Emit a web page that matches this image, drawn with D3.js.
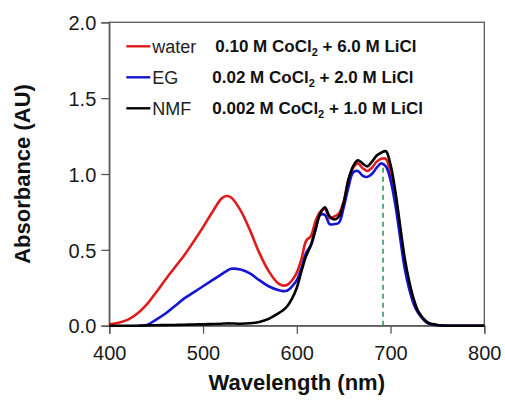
<!DOCTYPE html>
<html>
<head>
<meta charset="utf-8">
<script src="https://cdn.jsdelivr.net/npm/d3@7"></script>
<style>
  body { margin: 0; background: #fff; }
  svg { font-family: "Liberation Sans", Arial, sans-serif; }
</style>
</head>
<body>
<script>
// wavelength grid (nm) and absorbance
const wavelengths = [400, 410, 420, 430, 440, 450, 460, 470, 480, 490, 500, 510, 520, 525, 530, 540, 550, 560, 570, 580, 585, 590, 595, 600, 605, 610, 615, 620, 625, 630, 635, 640, 645, 650, 655, 660, 665, 670, 675, 680, 685, 690, 695, 700, 705, 710, 715, 720, 725, 730, 740, 750, 760, 780, 800];

const water = [0.01, 0.02, 0.04, 0.08, 0.14, 0.22, 0.305, 0.385, 0.465, 0.555, 0.65, 0.75, 0.84, 0.855, 0.845, 0.76, 0.63, 0.48, 0.36, 0.28, 0.265, 0.27, 0.30, 0.35, 0.44, 0.56, 0.59, 0.69, 0.75, 0.77, 0.71, 0.72, 0.74, 0.82, 0.96, 1.04, 1.07, 1.04, 1.02, 1.04, 1.08, 1.10, 1.10, 1.00, 0.85, 0.63, 0.41, 0.25, 0.14, 0.08, 0.015, 0.003, 0, 0, 0];

const eg = [null, null, null, 0, 0.005, 0.04, 0.08, 0.13, 0.18, 0.22, 0.26, 0.30, 0.34, 0.36, 0.375, 0.37, 0.345, 0.30, 0.26, 0.235, 0.228, 0.232, 0.26, 0.30, 0.38, 0.48, 0.53, 0.63, 0.73, 0.73, 0.67, 0.67, 0.68, 0.78, 0.91, 1.01, 1.02, 0.99, 0.98, 1.00, 1.04, 1.07, 1.05, 0.96, 0.80, 0.59, 0.38, 0.24, 0.14, 0.08, 0.015, 0.003, 0, 0, 0];

const nmf = [0, 0, 0, 0, 0.002, 0.003, 0.004, 0.005, 0.006, 0.008, 0.009, 0.011, 0.013, 0.015, 0.015, 0.013, 0.016, 0.025, 0.045, 0.08, 0.10, 0.13, 0.18, 0.25, 0.36, 0.46, 0.53, 0.64, 0.74, 0.78, 0.72, 0.70, 0.72, 0.81, 0.96, 1.05, 1.09, 1.07, 1.05, 1.08, 1.12, 1.14, 1.15, 1.06, 0.89, 0.67, 0.45, 0.29, 0.17, 0.09, 0.02, 0.005, 0, 0, 0];

const xTicks = [400, 500, 600, 700, 800];
const yTicks = [0.0, 0.5, 1.0, 1.5, 2.0];

const seriesNames = ["water", "EG", "NMF"];
const seriesColors = ["#e01b1b", "#1414d2", "#000000"];
const seriesConc = [
    ["0.10 M CoCl", " + 6.0 M LiCl"],
    ["0.02 M CoCl", " + 2.0 M LiCl"],
    ["0.002 M CoCl", " + 1.0 M LiCl"]
];
const peakNm = 692;
const peakAbs = 1.07;

let margin = { top: 22.3, right: 20.7, bottom: 74.3, left: 109.3 },
    width = 505 - margin.left - margin.right,
    height = 400 - margin.top - margin.bottom;

let x = d3.scaleLinear().domain([400, 800]).range([0, width]);
let y = d3.scaleLinear().domain([0, 2]).range([height, 0]);

let svg = d3.select("body").append("svg")
    .attr("width", 505)
    .attr("height", 400)
    .append("g")
    .attr("transform", "translate(" + margin.left + "," + margin.top + ")");

const axisColor = "#595959";

// frame
svg.append("rect")
    .attr("width", width)
    .attr("height", height)
    .attr("fill", "none")
    .attr("stroke", axisColor)
    .attr("stroke-width", 1.3);

let xAxis = d3.axisBottom(x).tickValues(xTicks).tickSize(8).tickFormat(d3.format("d"));
let yAxis = d3.axisLeft(y).tickValues(yTicks).tickSize(8).tickFormat(d3.format(".1f"));

let gx = svg.append("g")
    .attr("transform", "translate(0," + height + ")")
    .call(xAxis);
let gy = svg.append("g").call(yAxis);

[gx, gy].forEach(function (g) {
    g.select(".domain").attr("stroke", axisColor).attr("stroke-width", 1.3);
    g.selectAll(".tick line").attr("stroke", axisColor).attr("stroke-width", 1.3);
    g.selectAll(".tick text")
        .attr("fill", "#1a1a1a")
        .style("font-size", "20px")
        .style("font-family", "Liberation Sans, Arial, sans-serif");
});
gx.selectAll(".tick text").attr("dy", null).attr("y", 34);
gy.selectAll(".tick text").attr("x", -13).attr("dy", "0.36em");

// axis titles
svg.append("text")
    .attr("x", width / 2)
    .attr("y", 368)
    .attr("text-anchor", "middle")
    .style("font-size", "22px")
    .style("font-weight", "bold")
    .attr("fill", "#111")
    .text("Wavelength (nm)");

svg.append("text")
    .attr("transform", "translate(" + (-79) + "," + (height / 2) + ") rotate(-90)")
    .attr("text-anchor", "middle")
    .style("font-size", "22px")
    .style("font-weight", "bold")
    .attr("fill", "#111")
    .text("Absorbance (AU)");

// dashed marker at peak
svg.append("line")
    .attr("x1", x(peakNm)).attr("x2", x(peakNm))
    .attr("y1", y(0)).attr("y2", y(peakAbs))
    .attr("stroke", "#1e9a4a")
    .attr("stroke-width", 1.5)
    .attr("stroke-dasharray", "5,4");

let line = d3.line()
    .defined(d => d != null)
    .x((d, i) => x(wavelengths[i]))
    .y(d => y(Math.max(0, d)))
    .curve(d3.curveCatmullRom.alpha(0.5));

[water, eg, nmf].forEach(function (vals, i) {
    svg.append("path")
        .attr("fill", "none")
        .attr("stroke", seriesColors[i])
        .attr("stroke-width", 2.6)
        .attr("stroke-linejoin", "round")
        .attr("d", line(vals));
});

// legend
const legendY = [24, 55, 86];
seriesNames.forEach(function (name, i) {
    let lg = svg.append("g").attr("transform", "translate(0," + legendY[i] + ")");
    lg.append("line")
        .attr("x1", 17).attr("x2", 41)
        .attr("y1", 0).attr("y2", 0)
        .attr("stroke", seriesColors[i])
        .attr("stroke-width", 2.4);
    lg.append("text")
        .attr("x", 43)
        .attr("y", 6.5)
        .style("font-size", "18px")
        .attr("fill", "#222")
        .text(name);
    let t = lg.append("text")
        .attr("x", i == 0 ? 106 : 103)
        .attr("y", 6)
        .style("font-size", "17px")
        .style("font-weight", "bold")
        .attr("fill", "#111");
    t.append("tspan").text(seriesConc[i][0]);
    t.append("tspan").attr("dy", 4).style("font-size", "11px").text("2");
    t.append("tspan").attr("dy", -4).text(seriesConc[i][1]);
});
</script>
</body>
</html>
